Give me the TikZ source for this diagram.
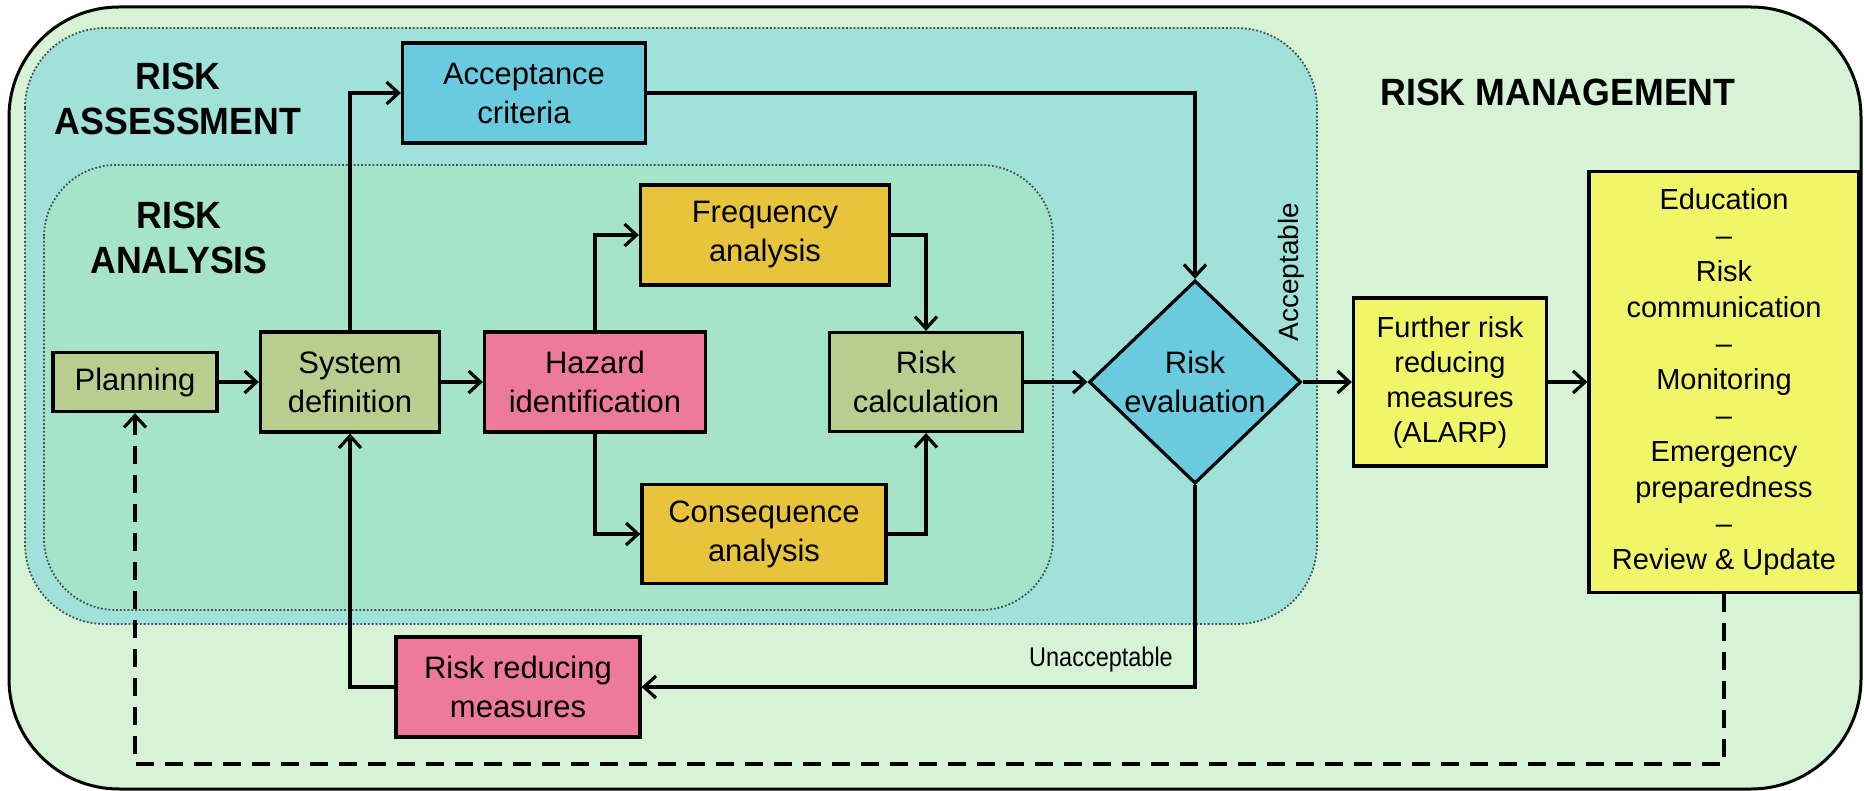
\documentclass[tikz,border=0pt]{standalone}
\usepackage{fontspec}
\setmainfont{Liberation Sans}
\newfontfamily\hdfont[FakeStretch=0.94]{Liberation Sans}
\newfontfamily\plainfont{Liberation Sans}
\newfontfamily\narrowfont[FakeStretch=0.87]{Liberation Sans}
\usetikzlibrary{shapes.geometric,arrows.meta}
\definecolor{mgmt}{RGB}{214,243,214}
\definecolor{assess}{RGB}{160,225,218}
\definecolor{analys}{RGB}{166,228,202}
\definecolor{olive}{RGB}{184,206,142}
\definecolor{pinkb}{RGB}{237,122,152}
\definecolor{goldb}{RGB}{232,196,60}
\definecolor{cyanb}{RGB}{106,202,222}
\definecolor{yellowb}{RGB}{240,246,104}
\definecolor{dotgray}{RGB}{70,80,80}
\begin{document}
\begin{tikzpicture}[x=0.5pt,y=-0.5pt,
  box/.style={draw=black, line width=1.6pt, inner sep=0pt, align=center,
    font=\fontsize{15.5}{19.5}\selectfont},
  conn/.style={line width=1.6pt, -{Straight Barb[length=6pt,width=11pt]}},
  dconn/.style={conn, dash pattern=on 9pt off 5.5pt},
  head/.style={align=center, inner sep=0pt, font=\hdfont\bfseries\fontsize{19}{22.5}\selectfont},
  lbl/.style={inner sep=0pt, font=\narrowfont\fontsize{13.5}{16}\selectfont},
  region/.style={draw=dotgray, line width=0.9pt, densely dotted}
]
\useasboundingbox (0,0) rectangle (1864,791);
% regions
\filldraw[fill=mgmt, draw=black, line width=1.5pt, rounded corners=55pt] (9,7) rectangle (1861,789);
\filldraw[region, fill=assess, rounded corners=40pt] (25,28) rectangle (1317,624);
\filldraw[region, fill=analys, rounded corners=36pt] (44,165) rectangle (1053,610);
% headings
\node[head] (hAss) at (178,99) {RISK\\ASSESSMENT};
\node[head] (hAna) at (179,238) {RISK\\ANALYSIS};
\node[head] (hMan) at (1558,92) {RISK MANAGEMENT};
% nodes
\node[box, fill=olive, minimum width=82pt, minimum height=29.5pt] (plan) at (135,382) {Planning};
\node[box, fill=olive, minimum width=89.5pt, minimum height=50pt] (sys) at (350,382) {System\\definition};
\node[box, fill=pinkb, minimum width=110.5pt, minimum height=50pt] (haz) at (595,382) {Hazard\\identification};
\node[box, fill=goldb, minimum width=124.5pt, minimum height=50pt] (freq) at (765,235) {Frequency\\analysis};
\node[box, fill=goldb, minimum width=122pt, minimum height=49.5pt] (cons) at (764,534) {Consequence\\analysis};
\node[box, fill=olive, minimum width=96.5pt, minimum height=49.5pt] (calc) at (926,382) {Risk\\calculation};
\node[box, fill=cyanb, minimum width=121.5pt, minimum height=50pt] (acc) at (524,93) {Acceptance\\criteria};
\node[box, fill=cyanb, diamond, minimum width=106pt, minimum height=98pt] (eval) at (1195,382) {Risk\\evaluation};
\node[box, fill=pinkb, minimum width=122pt, minimum height=50pt] (rrm) at (518,687) {Risk reducing\\measures};
\node[box, fill=yellowb, minimum width=96.5pt, minimum height=84pt, font=\fontsize{14.5}{17.5}\selectfont] (further) at (1450,382) {Further risk\\reducing\\measures\\(ALARP)};
\node[box, fill=yellowb, minimum width=135pt, minimum height=210.5pt, font=\fontsize{14.5}{18}\selectfont] (edu) at (1724,382) {Education\\–\\Risk\\communication\\–\\Monitoring\\–\\Emergency\\preparedness\\–\\Review \& Update};
% labels
\node[lbl] (lUn) at (1101,660) {Unacceptable};
\node[lbl, rotate=90, font=\plainfont\fontsize{14}{18}\selectfont] (lAc) at (1291,272) {Acceptable};
% connectors
\draw[conn] (plan) -- (sys);
\draw[conn] (sys) -- (haz);
\draw[conn] (sys.north) |- (acc.west);
\draw[conn] (acc.east) -| (eval.north);
\draw[conn] (haz.north) |- (freq.west);
\draw[conn] (haz.south) |- (cons.west);
\draw[conn] (freq.east) -| (calc.north);
\draw[conn] (cons.east) -| (calc.south);
\draw[conn] (calc) -- (eval);
\draw[conn] (eval) -- (further);
\draw[conn] (further) -- (edu);
\draw[conn] (eval.south) |- (rrm.east);
\draw[conn] (rrm.west) -| (sys.south);
\coordinate (fb) at (135,764);
\draw[dconn] (edu.south) |- (fb) -- (plan.south);
\end{tikzpicture}
\end{document}
